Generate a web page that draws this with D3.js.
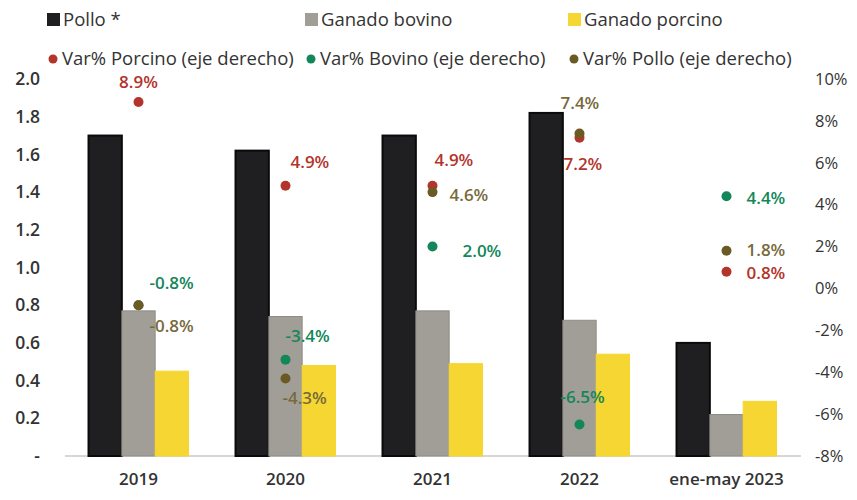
<!DOCTYPE html>
<html><head><meta charset="utf-8">
<script src="https://cdn.jsdelivr.net/npm/d3@7"></script>
<style>body{margin:0;background:#fff}svg{display:block}</style>
</head><body>
<svg id="c" width="857" height="500"></svg>
<script>
// ---- data ----
const categories = ["2019", "2020", "2021", "2022", "ene-may 2023"];
const pollo   = [1.70, 1.62, 1.70, 1.82, 0.60];
const bovino  = [0.77, 0.74, 0.77, 0.72, 0.22];
const porcino = [0.45, 0.48, 0.49, 0.54, 0.29];
const varPorcino = [8.9, 4.9, 4.9, 7.2, 0.8];
const varBovino  = [-0.8, -3.4, 2.0, -6.5, 4.4];
const varPollo   = [-0.8, -4.3, 4.6, 7.4, 1.8];
const leftTicks  = [0, 0.2, 0.4, 0.6, 0.8, 1.0, 1.2, 1.4, 1.6, 1.8, 2.0];
const rightTicks = [-8, -6, -4, -2, 0, 2, 4, 6, 8, 10];

// ---- layout / style ----
const W = 857, H = 500;
const m = {left: 65, right: 57, top: 79, bottom: 44};
const svg = d3.select("#c");
const font = "'Open Sans', sans-serif";
const txt = "#333";
const hy = s => s.replace(/\u2212/g, "-");

const barSeries = [
  {name: "Pollo *", values: pollo, color: "#1f1f22", stroke: "#0a0a0a"},
  {name: "Ganado bovino", values: bovino, color: "#a19e98", stroke: "#8f8c86"},
  {name: "Ganado porcino", values: porcino, color: "#f6d632", stroke: "#f6d632"}
];
const dotSeries = [
  {name: "Var% Porcino (eje derecho)", values: varPorcino, color: "#b3342b"},
  {name: "Var% Bovino (eje derecho)", values: varBovino, color: "#13865a"},
  {name: "Var% Pollo (eje derecho)", values: varPollo, color: "#6b5a24", label: "#786a3c"}
];
// label offsets [dx, dy, anchor] relative to the dot, per series per category
const labelOff = {
  "Var% Porcino (eje derecho)": [[0,-20,"middle"],[5,-24,"start"],[2,-26,"start"],[-16,26,"start"],[20,1,"start"]],
  "Var% Bovino (eje derecho)":  [[11,-22,"start"],[0,-24,"start"],[30,4,"start"],[-19,-28,"start"],[20,2,"start"]],
  "Var% Pollo (eje derecho)":   [[11,21,"start"],[-3,20,"start"],[17,3,"start"],[-19,-30,"start"],[20,-1,"start"]]
};

const x0 = d3.scaleBand().domain(categories).range([m.left, W - m.right]).paddingInner(0.32).paddingOuter(0.16);
const x1 = d3.scaleBand().domain(d3.range(barSeries.length)).range([0, x0.bandwidth()]);
const yL = d3.scaleLinear().domain([0, 2.0]).range([H - m.bottom, m.top]);
const yR = d3.scaleLinear().domain([-8, 10]).range([H - m.bottom, m.top]);

// baseline
svg.append("line").attr("x1", m.left).attr("x2", W - m.right + 1)
  .attr("y1", yL(0)).attr("y2", yL(0)).attr("stroke", "#c8c8c8").attr("stroke-width", 1.5);

// bars
barSeries.forEach((s, si) => {
  svg.append("g").selectAll("rect").data(s.values).join("rect")
    .attr("x", (d, i) => x0(categories[i]) + x1(si))
    .attr("width", x1.bandwidth())
    .attr("y", d => yL(d))
    .attr("height", d => yL(0) - yL(d))
    .attr("fill", s.color)
    .attr("stroke", s.stroke).attr("stroke-width", si === 0 ? 2 : 1);
});

// left axis
const gL = svg.append("g").attr("transform", `translate(${m.left - 22},0)`)
  .call(d3.axisLeft(yL).tickValues(leftTicks).tickSize(0)
    .tickFormat(d => d === 0 ? "-" : d3.format(".1f")(d)));
gL.select(".domain").remove();
gL.selectAll("text").attr("font-family", font).attr("font-size", 17.5).attr("font-weight", 600).attr("fill", txt);

// right axis
const gR = svg.append("g").attr("transform", `translate(${W - m.right + 12},0)`)
  .call(d3.axisRight(yR).tickValues(rightTicks).tickSize(0).tickFormat(d => hy(d + "%")));
gR.select(".domain").remove();
gR.selectAll("text").attr("font-family", font).attr("font-size", 16.5).attr("fill", txt);

// x axis
const gX = svg.append("g").attr("transform", `translate(0,${yL(0) + 14})`)
  .call(d3.axisBottom(x0).tickSize(0));
gX.select(".domain").remove();
gX.selectAll("text").attr("font-family", font).attr("font-size", 17).attr("font-weight", 600).attr("fill", txt);

// dots
dotSeries.forEach(s => {
  const g = svg.append("g");
  s.values.forEach((v, i) => {
    g.append("circle").attr("cx", x0(categories[i]) + x0.bandwidth() / 2)
      .attr("cy", yR(v)).attr("r", 5).attr("fill", s.color);
  });
});
// labels
dotSeries.forEach(s => {
  const g = svg.append("g");
  s.values.forEach((v, i) => {
    const cx = x0(categories[i]) + x0.bandwidth() / 2;
    const cy = yR(v);
    const o = labelOff[s.name][i];
    g.append("text").attr("x", cx + o[0]).attr("y", cy + o[1]).attr("dy", "0.35em")
      .attr("text-anchor", o[2])
      .attr("font-family", font).attr("font-size", 17).attr("font-weight", 600)
      .attr("fill", s.label || s.color)
      .text(hy(d3.format(".1f")(v) + "%"));
  });
});

// legend
const legX = [47, 305, 568];
barSeries.forEach((s, i) => {
  svg.append("rect").attr("x", legX[i]).attr("y", 13).attr("width", 13).attr("height", 13).attr("fill", s.color);
  svg.append("text").attr("x", legX[i] + 16).attr("y", 20).attr("dy", "0.35em")
    .attr("font-family", font).attr("font-size", 18.5).attr("fill", txt).text(s.name);
});
dotSeries.forEach((s, i) => {
  svg.append("circle").attr("cx", legX[i] + 6).attr("cy", 59).attr("r", 4.5).attr("fill", s.color);
  svg.append("text").attr("x", legX[i] + 15).attr("y", 59).attr("dy", "0.35em")
    .attr("font-family", font).attr("font-size", 18.5).attr("fill", txt).text(s.name);
});
</script>
</body></html>
